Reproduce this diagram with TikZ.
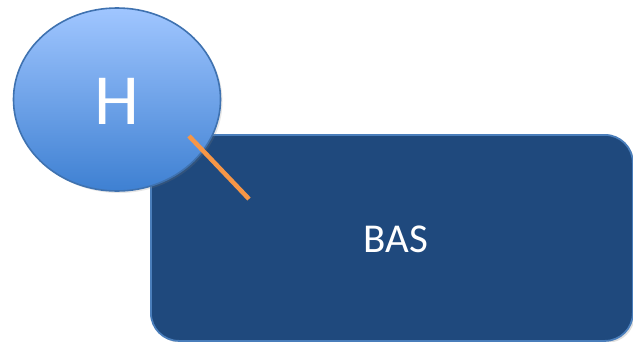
\documentclass[tikz,border=0pt]{standalone}
\usepackage{fontspec}
\setmainfont{Carlito}
\usetikzlibrary{shapes.geometric,shadows}
\definecolor{darkbox}{HTML}{1F497D}
\definecolor{boxborder}{HTML}{4A7EBB}
\definecolor{elltop}{HTML}{A0C6FF}
\definecolor{ellbot}{HTML}{3E80D2}
\definecolor{ellborder}{HTML}{3F72B0}
\definecolor{linkorange}{HTML}{F79646}
\tikzset{
  basbox/.style={draw=boxborder, line width=1.8pt, fill=darkbox, rounded corners=28pt,
    drop shadow={shadow xshift=2pt, shadow yshift=-2pt, opacity=0.25}},
  hnode/.style={ellipse, draw=ellborder, line width=1.6pt, top color=elltop, bottom color=ellbot,
    minimum width=207pt, minimum height=183pt, inner sep=0pt,
    drop shadow={shadow xshift=2pt, shadow yshift=-2pt, opacity=0.2}},
  link/.style={draw=linkorange, line width=4.5pt}
}
\begin{document}
\begin{tikzpicture}[x=1pt,y=-1pt]
\useasboundingbox (0,0) rectangle (633,341);
\node[basbox, minimum width=482pt, minimum height=206pt, inner sep=0pt, anchor=north west] (bas) at (150,134) {};
\node[text=white, font=\fontsize{41}{41}\selectfont] (baslabel) at (396,239) {BAS};
\node[hnode] (h) at (117,99.5) {};
\node[text=white, font=\fontsize{72}{72}\selectfont] (hlabel) at (117,101) {H};
\coordinate (ls) at (189,136);
\coordinate (le) at (249,199);
\draw[link] (ls) -- (le);
\end{tikzpicture}
\end{document}
